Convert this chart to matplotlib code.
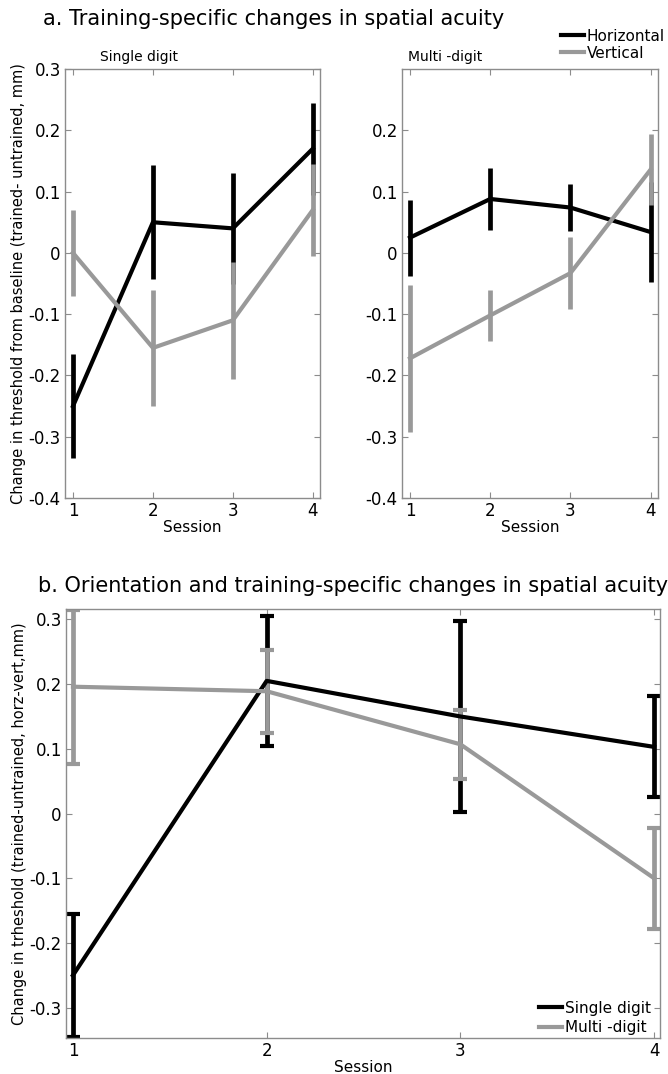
import numpy as np
import matplotlib
matplotlib.use("Agg")
import matplotlib.pyplot as plt
from matplotlib.ticker import FuncFormatter
from matplotlib.lines import Line2D

plt.rcParams['font.family'] = ['DejaVu Sans']
plt.rcParams['axes.unicode_minus'] = False

#%% data
sessions = [1, 2, 3, 4]

# a. single digit training
single_horz = [-0.25, 0.05, 0.04, 0.17]
single_horz_err = [0.085, 0.093, 0.09, 0.075]
single_vert = [0.0, -0.155, -0.11, 0.07]
single_vert_err = [0.07, 0.095, 0.095, 0.075]

# a. multi digit training
multi_horz = [0.025, 0.088, 0.074, 0.034]
multi_horz_err = [0.062, 0.051, 0.039, 0.082]
multi_vert = [-0.172, -0.102, -0.033, 0.136]
multi_vert_err = [0.12, 0.041, 0.059, 0.058]

# b. horizontal - vertical difference
diff_single = [-0.25, 0.205, 0.15, 0.103]
diff_single_err = [0.095, 0.1, 0.148, 0.078]
diff_multi = [0.196, 0.189, 0.107, -0.1]
diff_multi_err = [0.119, 0.064, 0.053, 0.078]

black = 'black'
grey = '#999999'
frame = '#8c8c8c'

#%% helpers
def fmt_tick(v, pos):
    if abs(v) < 1e-9:
        return '0'
    return '%g' % round(v, 3)

def style_axes(ax):
    for sp in ax.spines.values():
        sp.set_color(frame)
        sp.set_linewidth(1.0)
    ax.tick_params(direction='in', length=4, width=0.8, color=frame,
                   top=True, right=True, labelsize=12, pad=3)
    ax.yaxis.set_major_formatter(FuncFormatter(fmt_tick))

def line_handles(labels):
    return [Line2D([], [], color=black, lw=3), Line2D([], [], color=grey, lw=3)], labels

def draw_panel(ax, horz, horz_err, vert, vert_err):
    ax.errorbar(sessions, horz, yerr=horz_err, color=black, lw=3, elinewidth=3.4,
                capsize=0)
    ax.errorbar(sessions, vert, yerr=vert_err, color=grey, lw=3, elinewidth=3.4,
                capsize=0)
    ax.set_xlim(0.9, 4.09)
    ax.set_ylim(-0.4, 0.3)
    ax.set_xticks(sessions)
    ax.set_xlabel('Session', fontsize=11, labelpad=0)
    style_axes(ax)

#%% figure
fig = plt.figure(figsize=(6.68, 10.74), dpi=100)

ax1 = fig.add_axes([0.0973, 0.5363, 0.3817, 0.3994])
draw_panel(ax1, single_horz, single_horz_err, single_vert, single_vert_err)
ax1.set_yticks(np.arange(-0.4, 0.31, 0.1))
ax1.set_ylabel('Change in threshold from baseline (trained- untrained, mm)',
               fontsize=10.5, labelpad=2)

ax2 = fig.add_axes([0.6018, 0.5363, 0.383, 0.3994])
draw_panel(ax2, multi_horz, multi_horz_err, multi_vert, multi_vert_err)
ax2.set_yticks(np.arange(-0.4, 0.21, 0.1))
h, l = line_handles(['Horizontal', 'Vertical'])
ax2.legend(h, l, loc='lower right', bbox_to_anchor=(1.05, 1.005), frameon=False,
           handlelength=1.5, handletextpad=0.15, borderaxespad=0,
           labelspacing=0.15, fontsize=11)

fig.text(0.064, 1 - 25 / 1074, 'a. Training-specific changes in spatial acuity',
         fontsize=15, va='baseline', ha='left')
fig.text(100 / 668, 1 - 57 / 1074, 'Single digit', fontsize=10, va='center')
fig.text(408 / 668, 1 - 57 / 1074, 'Multi -digit', fontsize=10, va='center')

# b. difference between orientations
ax3 = fig.add_axes([0.0988, 0.0335, 0.889, 0.3994])
ax3.errorbar(sessions, diff_single, yerr=diff_single_err, color=black, lw=3,
             elinewidth=3.4, capsize=5, capthick=3)
ax3.errorbar(sessions, diff_multi, yerr=diff_multi_err, color=grey, lw=3,
             elinewidth=3.4, capsize=5, capthick=3)
ax3.set_xlim(0.964, 4.03)
ax3.set_ylim(-0.347, 0.316)
ax3.set_xticks(sessions)
ax3.set_yticks(np.arange(-0.3, 0.31, 0.1))
ax3.set_xlabel('Session', fontsize=11, labelpad=0)
ax3.set_ylabel('Change in trheshold (trained-untrained, horz-vert,mm)',
               fontsize=10.5, labelpad=2)
style_axes(ax3)
h, l = line_handles(['Single digit', 'Multi -digit'])
ax3.legend(h, l, loc='lower right', bbox_to_anchor=(1.0, -0.015), frameon=False,
           handlelength=1.5, handletextpad=0.15, borderaxespad=0.2,
           labelspacing=0.3, fontsize=11)

fig.text(0.057, 1 - 592 / 1074,
         'b. Orientation and training-specific changes in spatial acuity',
         fontsize=15, va='baseline', ha='left')

fig.savefig('out.png', dpi=100)
